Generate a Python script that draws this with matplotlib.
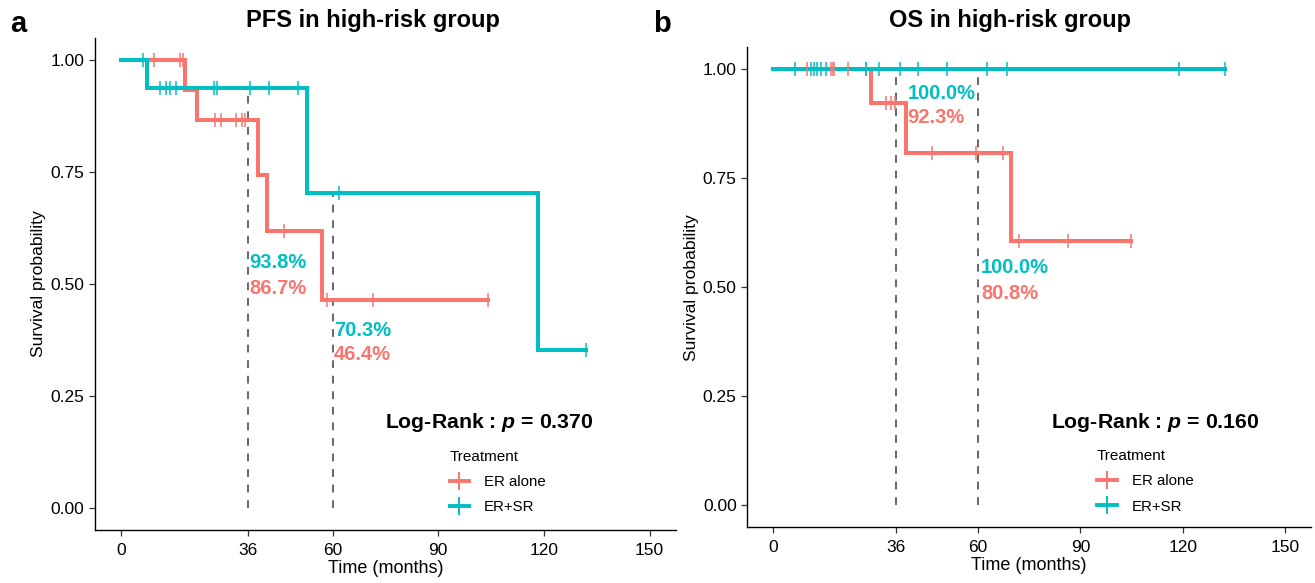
import numpy as np
import matplotlib
matplotlib.use("Agg")
import matplotlib.pyplot as plt
from matplotlib.lines import Line2D

plt.rcParams['font.family'] = ['Liberation Sans', 'DejaVu Sans']
plt.rcParams['mathtext.fontset'] = 'custom'
plt.rcParams['mathtext.rm'] = 'Liberation Sans'
plt.rcParams['mathtext.bfit'] = 'Liberation Sans:italic:bold'

RED = '#F8766D'
TEAL = '#00BFC4'

# PFS, ER alone
pfs_er_time = [0, 18.1, 21.4, 38.7, 41.3, 57.1, 104.2]
pfs_er_surv = [1.0, 0.933, 0.867, 0.743, 0.619, 0.464, 0.464]
pfs_er_cens = [9.4, 16.7, 17.4, 26.6, 28.4, 32.5, 34.2, 35.2, 46.2, 58.5, 71.5, 104.2]
# PFS, ER+SR
pfs_sr_time = [0, 7.2, 52.6, 118.4, 132.0]
pfs_sr_surv = [1.0, 0.938, 0.703, 0.352, 0.352]
pfs_sr_cens = [6.2, 11.0, 12.8, 13.9, 15.5, 26.4, 27.1, 36.6, 41.8, 50.3, 61.8, 132.0]

# OS, ER alone
os_er_time = [0, 28.9, 38.9, 69.7, 104.7]
os_er_surv = [1.0, 0.923, 0.808, 0.606, 0.606]
os_er_cens = [9.9, 17.0, 17.5, 17.9, 21.9, 27.2, 33.1, 34.5, 35.7, 46.7, 59.4, 67.4,
              72.2, 86.5, 104.7]
# OS, ER+SR
os_sr_time = [0, 132.3]
os_sr_surv = [1.0, 1.0]
os_sr_cens = [6.6, 11.3, 12.0, 13.0, 14.0, 15.7, 27.2, 31.1, 37.3, 42.6, 51.1, 62.8,
              68.6, 119.0, 132.3]

landmarks = [36, 60]
xticks = [0, 36, 60, 90, 120, 150]
yticks = [0.0, 0.25, 0.5, 0.75, 1.0]
pvals = ['0.370', '0.160']
titles = ['PFS in high-risk group', 'OS in high-risk group']


def surv_at(time, surv, t):
    idx = np.searchsorted(time, t, side='right') - 1
    return np.asarray(surv)[idx]


def km_panel(ax, curves, label_pos, pval, logrank_x, leg_x):
    # red first, teal drawn over it
    for time, surv, cens, col in curves:
        ax.step(time, surv, where='post', color=col, lw=2.9, zorder=3,
                solid_joinstyle='miter')
    for time, surv, cens, col in curves:
        ax.plot(cens, surv_at(time, surv, cens), ls='none', marker='|',
                ms=10.5, mew=1.1, color=col, zorder=4)

    # landmark lines with survival percentages
    for lm, (tx, ty_top, ty_bot) in zip(landmarks, label_pos):
        vals = [surv_at(t, s, lm) for t, s, c, col in curves]
        ax.plot([lm, lm], [0, max(vals)], ls=(0, (4, 4)), color='#666666', lw=1.4,
                zorder=2)
        ax.text(tx, ty_top, f'{vals[1]*100:.1f}%', color=TEAL, fontsize=14.5,
                fontweight='bold', ha='left', va='center')
        ax.text(tx, ty_bot, f'{vals[0]*100:.1f}%', color=RED, fontsize=14.5,
                fontweight='bold', ha='left', va='center')

    ax.text(logrank_x, 0.19, 'Log-Rank : $\\mathbfit{p}$ = ' + pval,
            fontsize=15.3, fontweight='bold', ha='center', va='center')

    ax.set_xlim(-7.5, 157.5)
    ax.set_ylim(-0.05, 1.05)
    ax.set_xticks(xticks)
    ax.set_yticks(yticks)
    ax.set_yticklabels([f'{v:.2f}' for v in yticks])
    ax.set_xlabel('Time (months)', fontsize=13, labelpad=2)
    ax.set_ylabel('Survival probability', fontsize=12.6, labelpad=3)
    for sp in ['top', 'right']:
        ax.spines[sp].set_visible(False)
    for sp in ['left', 'bottom']:
        ax.spines[sp].set_linewidth(1.0)
    ax.tick_params(axis='both', labelsize=12.5, length=4, width=0.9, color='#333333',
                   labelcolor='black')
    ax.tick_params(axis='x', pad=5)

    handles = [Line2D([0], [0], color=RED, lw=2.8, marker='|', ms=13, mew=1.4),
               Line2D([0], [0], color=TEAL, lw=2.8, marker='|', ms=13, mew=1.4)]
    leg = ax.legend(handles, ['ER alone', 'ER+SR'], title='Treatment', frameon=False,
                    loc='upper left', bbox_to_anchor=(leg_x, 0.175),
                    fontsize=10.8, title_fontsize=11, handlelength=1.3,
                    handletextpad=1.0, labelspacing=0.75, borderaxespad=0)
    leg._legend_box.align = 'left'


fig = plt.figure(figsize=(13.15, 5.83), dpi=100)
ax1 = fig.add_axes([0.0722, 0.0909, 0.4418, 0.8440])
ax2 = fig.add_axes([0.5681, 0.0960, 0.4289, 0.8230])

km_panel(ax1,
         [(pfs_er_time, pfs_er_surv, pfs_er_cens, RED),
          (pfs_sr_time, pfs_sr_surv, pfs_sr_cens, TEAL)],
         [(36.4, 0.547, 0.491), (60.4, 0.397, 0.342)],
         pvals[0], 104.6, 0.60)
km_panel(ax2,
         [(os_er_time, os_er_surv, os_er_cens, RED),
          (os_sr_time, os_sr_surv, os_sr_cens, TEAL)],
         [(39.5, 0.945, 0.888), (61.0, 0.546, 0.486)],
         pvals[1], 111.8, 0.61)

fig.text(0.2837, 0.964, titles[0], fontsize=17, fontweight='bold', ha='center', va='center')
fig.text(0.768, 0.964, titles[1], fontsize=17, fontweight='bold', ha='center', va='center')
fig.text(0.008, 0.958, 'a', fontsize=21, fontweight='bold', ha='left', va='center')
fig.text(0.497, 0.958, 'b', fontsize=21, fontweight='bold', ha='left', va='center')

fig.savefig('out.png', dpi=100)
